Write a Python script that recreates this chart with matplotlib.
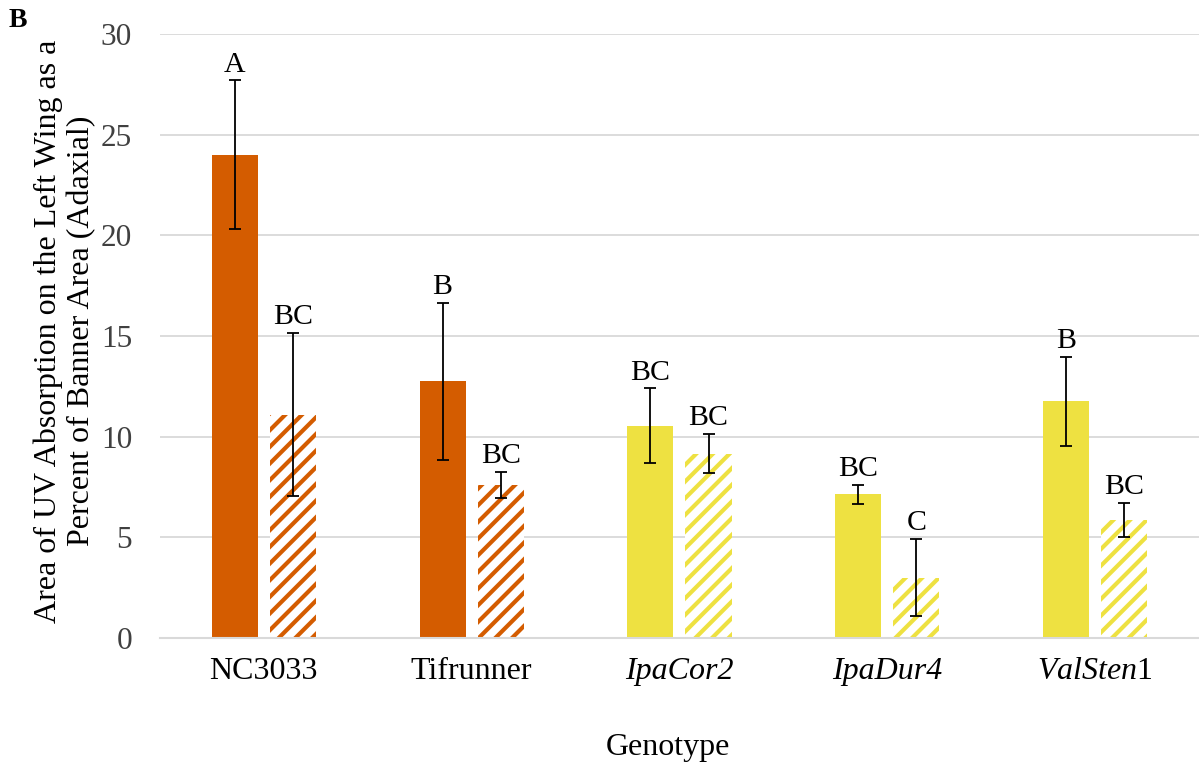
import matplotlib
matplotlib.use("Agg")
import matplotlib.pyplot as plt
import numpy as np

# data
genotypes = ["NC3033", "Tifrunner", "IpaCor2", "IpaDur4", r"$\mathit{ValSten}$1"]
italic_labels = [False, False, True, True, False]
solid_vals = [24.0, 12.75, 10.55, 7.15, 11.75]
solid_err = [3.7, 3.9, 1.85, 0.47, 2.2]
solid_letters = ["A", "B", "BC", "BC", "B"]
hatch_vals = [11.1, 7.6, 9.15, 3.0, 5.85]
hatch_err = [4.05, 0.65, 0.97, 1.93, 0.85]
hatch_letters = ["BC", "BC", "BC", "C", "BC"]
bar_colors = ["#D45C00", "#D45C00", "#EEE141", "#EEE141", "#EEE141"]

plt.rcParams["font.family"] = ["Liberation Serif", "DejaVu Serif"]
plt.rcParams["mathtext.fontset"] = "custom"
plt.rcParams["mathtext.rm"] = "Liberation Serif"
plt.rcParams["mathtext.it"] = "Liberation Serif:italic"
plt.rcParams["hatch.linewidth"] = 3.0

fig = plt.figure(figsize=(11.99, 7.70), dpi=100)
ax = fig.add_axes([0.1334, 0.1714, 0.8666, 0.7844])

x = np.arange(len(genotypes))
off, w = 0.14, 0.222
ax.bar(x - off, solid_vals, w, color=bar_colors, linewidth=0, zorder=2)
ax.bar(x + off, hatch_vals, w, color="white", edgecolor=bar_colors, hatch="//", linewidth=0, zorder=2)

ekw = dict(fmt="none", ecolor="black", elinewidth=1.3, capsize=4, capthick=1.3, zorder=3)
ax.errorbar(x - off, solid_vals, yerr=solid_err, **ekw)
ax.errorbar(x + off, hatch_vals, yerr=hatch_err, **ekw)

for xi, v, e, lab in zip(x - off, solid_vals, solid_err, solid_letters):
    ax.annotate(lab, (xi, v + e), xytext=(0, 2), textcoords="offset points",
                ha="center", va="bottom", fontsize=21.5)
for xi, v, e, lab in zip(x + off, hatch_vals, hatch_err, hatch_letters):
    ax.annotate(lab, (xi, v + e), xytext=(0, 2), textcoords="offset points",
                ha="center", va="bottom", fontsize=21.5)

ax.set_xlim(-0.5, len(genotypes) - 0.5)
ax.set_ylim(0, 30)
ax.set_yticks(np.arange(0, 31, 5))
ax.set_xticks(x, genotypes)
for lbl, it in zip(ax.get_xticklabels(), italic_labels):
    if it:
        lbl.set_fontstyle("italic")
ax.tick_params(axis="y", length=0, pad=20, labelsize=22.5, colors="#404040")
ax.tick_params(axis="x", length=0, pad=14, labelsize=23, colors="black")
ax.grid(axis="y", color="#D9D9D9", linewidth=1.3, zorder=0)
for s in ["top", "right", "left"]:
    ax.spines[s].set_visible(False)
ax.spines["bottom"].set_color("#D9D9D9")
ax.spines["bottom"].set_linewidth(1.5)
ax.set_axisbelow(True)

fig.text(0.054, 0.57, "Area of UV Absorption on the Left Wing as a\nPercent of Banner Area (Adaxial)",
         rotation=90, ha="center", va="center", multialignment="center", fontsize=23, linespacing=1.15)
fig.text(668 / 1199, 1 - 748 / 770, "Genotype", ha="center", va="center", fontsize=23)
fig.text(0.007, 0.973, "B", ha="left", va="center", fontsize=20, fontweight="bold")

fig.savefig("out.png", dpi=100)
